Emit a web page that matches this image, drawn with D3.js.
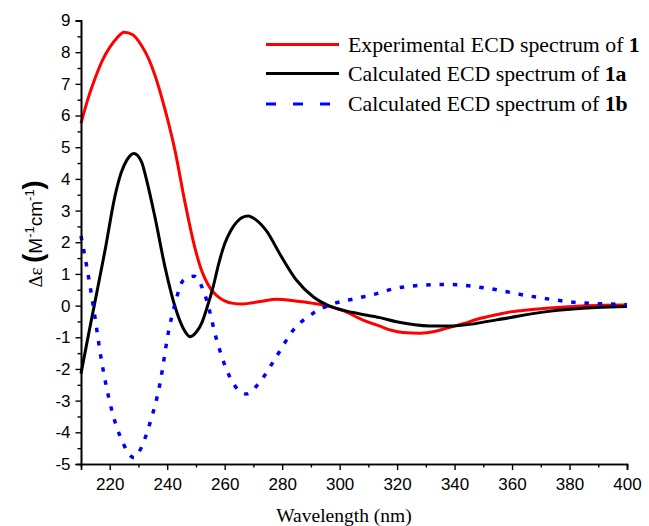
<!DOCTYPE html>
<html>
<head>
<meta charset="utf-8">
<script src="https://cdn.jsdelivr.net/npm/d3@7"></script>
<style>
  body { margin: 0; background: #fff; }
  svg { display: block; }
</style>
</head>
<body>
<div id="chart"></div>
<script>
// Data (wavelength in nm, delta epsilon)
const expWl = [210, 212.5, 215, 217.5, 220, 222.5, 225, 228, 231, 233.5, 235.7, 239.2, 242.7, 246.2, 249.7, 252, 254, 256, 258, 260, 263, 266, 269, 273, 278, 284, 290.8, 296.6, 301, 308, 314, 318, 322, 328, 333, 337, 343, 349, 355, 360, 366, 372, 384, 392, 400];
const expVals = [5.75, 6.55, 7.2, 7.75, 8.15, 8.45, 8.63, 8.55, 8.22, 7.8, 7.28, 6.2, 4.9, 3.25, 1.8, 1.1, 0.7, 0.43, 0.26, 0.15, 0.07, 0.05, 0.08, 0.14, 0.2, 0.15, 0.07, -0.03, -0.15, -0.45, -0.65, -0.78, -0.85, -0.87, -0.82, -0.72, -0.57, -0.4, -0.28, -0.19, -0.13, -0.08, -0.01, 0.01, 0.02];

const calcAWl = [210, 212, 214.6, 218.4, 221.8, 224, 226, 228.4, 231, 233, 235.7, 239.2, 242.7, 245.6, 248, 250, 252, 254, 256, 258, 260, 262, 264, 266, 268.2, 271, 274.6, 279.2, 285, 290.8, 296.6, 304.7, 314, 319.8, 331.4, 339.4, 354.6, 372, 389.4, 400];
const calcAVals = [-2.15, -1.2, 0, 1.76, 3.45, 4.2, 4.6, 4.8, 4.55, 3.9, 2.81, 1.23, -0.03, -0.72, -0.98, -0.85, -0.55, -0.02, 0.6, 1.35, 1.95, 2.35, 2.62, 2.78, 2.83, 2.7, 2.35, 1.63, 0.8, 0.28, -0.02, -0.22, -0.38, -0.51, -0.64, -0.64, -0.45, -0.19, -0.06, -0.03];

const calcBWl = [210, 212, 214.3, 217.2, 220.7, 224.7, 227, 228.5, 229.9, 234, 237.5, 240.4, 242.7, 245.6, 249.3, 251.5, 253.7, 257.2, 260.7, 264.7, 267.6, 272.3, 278, 283.9, 290.8, 296.6, 305.9, 311.7, 319.8, 328, 337.2, 351.1, 366.2, 383.6, 397.5, 400];
const calcBVals = [2.2, 1.23, -0.03, -1.77, -3.3, -4.35, -4.72, -4.8, -4.66, -3.71, -2.45, -0.85, 0.05, 0.8, 0.93, 0.7, 0.18, -1.08, -2.03, -2.66, -2.79, -2.4, -1.61, -0.77, -0.24, 0.02, 0.23, 0.35, 0.55, 0.64, 0.67, 0.55, 0.3, 0.09, 0.04, 0.03];

const xMajorTicks = [220, 240, 260, 280, 300, 320, 340, 360, 380, 400];
const xMinorTicks = [230, 250, 270, 290, 310, 330, 350, 370, 390];
const yMajorTicks = [-5, -4, -3, -2, -1, 0, 1, 2, 3, 4, 5, 6, 7, 8, 9];
const yMinorTicks = [-4.5, -3.5, -2.5, -1.5, -0.5, 0.5, 1.5, 2.5, 3.5, 4.5, 5.5, 6.5, 7.5, 8.5];

const seriesNames = ["Experimental ECD spectrum of ", "Calculated ECD spectrum of ", "Calculated ECD spectrum of "];
const seriesBold = ["1", "1a", "1b"];

document.addEventListener("DOMContentLoaded", () => {
    const width = 649;
    const height = 526;

    const svg = d3.select("#chart")
        .append("svg")
        .attr("width", width)
        .attr("height", height);

    // plot area in pixels
    const left = 81, right = 627, top = 20.5, bottom = 464;

    const x = d3.scaleLinear().domain([210, 400]).range([left, right]);
    const y = d3.scaleLinear().domain([-5, 9]).range([bottom, top]);

    const series = [
        { wl: expWl, vals: expVals, color: "#ff0000", dash: null, legendDash: null, width: 3 },
        { wl: calcAWl, vals: calcAVals, color: "#000000", dash: null, legendDash: null, width: 3 },
        { wl: calcBWl, vals: calcBVals, color: "#0000ff", dash: "4.5,8.8", legendDash: "10,17", width: 3.5 }
    ];

    const line = d3.line()
        .x(d => x(d[0]))
        .y(d => y(d[1]))
        .curve(d3.curveMonotoneX);

    series.forEach(s => {
        const pts = s.wl.map((w, i) => [w, s.vals[i]]);
        svg.append("path")
            .datum(pts)
            .attr("d", line)
            .attr("fill", "none")
            .attr("stroke", s.color)
            .attr("stroke-width", s.width)
            .attr("stroke-dasharray", s.dash);
    });

    // Axes
    const tickFont = "'Liberation Sans', Arial, sans-serif";

    const xMinor = svg.append("g")
        .attr("transform", `translate(0,${bottom})`)
        .call(d3.axisBottom(x).tickValues(xMinorTicks).tickSize(3.5).tickFormat(""));
    const xMajor = svg.append("g")
        .attr("transform", `translate(0,${bottom})`)
        .call(d3.axisBottom(x).tickValues(xMajorTicks).tickSize(6).tickPadding(8).tickFormat(d3.format("d")));

    const yMinor = svg.append("g")
        .attr("transform", `translate(${left},0)`)
        .call(d3.axisLeft(y).tickValues(yMinorTicks).tickSize(3.5).tickFormat(""));
    const yMajor = svg.append("g")
        .attr("transform", `translate(${left},0)`)
        .call(d3.axisLeft(y).tickValues(yMajorTicks).tickSize(5.5).tickPadding(5).tickFormat(d => String(d).replace("\u2212", "-")));

    [xMinor, xMajor, yMinor, yMajor].forEach(g => {
        g.select(".domain").attr("stroke", "#000").attr("stroke-width", 1.6);
        g.selectAll(".tick line").attr("stroke", "#000").attr("stroke-width", 1.4);
        g.selectAll(".tick text")
            .attr("fill", "#000")
            .style("font-family", tickFont)
            .style("font-size", "17px");
    });

    // Axis titles
    svg.append("text")
        .attr("x", 344)
        .attr("y", 522)
        .attr("text-anchor", "middle")
        .style("font-family", "'Liberation Serif', 'Times New Roman', serif")
        .style("font-size", "19.5px")
        .text("Wavelength (nm)");

    const yTitle = svg.append("text")
        .attr("transform", "translate(42,234) rotate(-90)")
        .attr("text-anchor", "middle")
        .style("font-family", tickFont)
        .style("font-size", "19px");
    yTitle.append("tspan").style("font-family", "'Liberation Serif', serif").text("\u0394\u03b5 ");
    yTitle.append("tspan").style("font-size", "27px").style("font-weight", "bold").text("(");
    yTitle.append("tspan").text("M");
    yTitle.append("tspan").attr("dy", -8).style("font-size", "13px").text("-1");
    yTitle.append("tspan").attr("dy", 8).text("cm");
    yTitle.append("tspan").attr("dy", -8).style("font-size", "13px").text("-1");
    yTitle.append("tspan").attr("dy", 8).style("font-size", "27px").style("font-weight", "bold").text(")");

    // Legend
    const legendY = [44.5, 73.5, 104];
    const legend = svg.append("g");
    series.forEach((s, i) => {
        legend.append("line")
            .attr("x1", 266).attr("x2", 339)
            .attr("y1", legendY[i]).attr("y2", legendY[i])
            .attr("stroke", s.color)
            .attr("stroke-width", 3)
            .attr("stroke-dasharray", s.legendDash);
        const t = legend.append("text")
            .attr("x", 348)
            .attr("y", legendY[i] + 7)
            .style("font-family", "'Liberation Serif', 'Times New Roman', serif")
            .style("font-size", "21.8px");
        t.append("tspan").text(seriesNames[i]);
        t.append("tspan").style("font-weight", "bold").text(seriesBold[i]);
    });
});
</script>
</body>
</html>
